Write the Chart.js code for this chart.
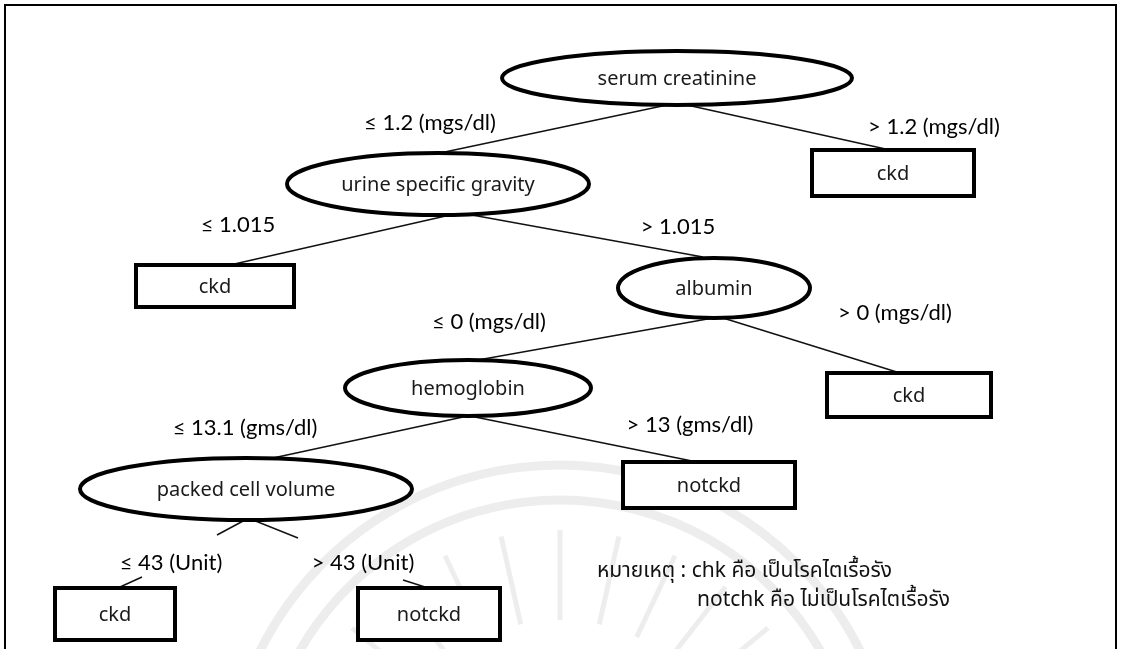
<!DOCTYPE html>
<html><head><meta charset="utf-8">
<script src="https://cdn.jsdelivr.net/npm/chart.js@4/dist/chart.umd.min.js"></script>
<style>html,body{margin:0;padding:0;background:#fff}#wrap{width:1123px;height:649px}</style>
</head><body><div id="wrap"><canvas id="c" width="1123" height="649"></canvas></div>
<script>
// ---- diagram data (diagram coordinate system: 0..1123 x 0..649) ----
const nodeLabels = ['serum creatinine','ckd','urine specific gravity','ckd','albumin','ckd','hemoglobin','notckd','packed cell volume','ckd','notckd'];
const nodeKinds  = ['split','leaf','split','leaf','split','leaf','split','leaf','split','leaf','leaf'];
const nodeX = [677, 893, 438, 215, 714, 909, 468, 709, 246, 115, 429];
const nodeY = [78, 173, 184, 286, 288, 395, 388, 485, 489, 614, 614];
// node half extents (layout)
const nodeHalfW = [175, 81, 151, 79, 96, 82, 123, 86, 166, 60, 71];
const nodeHalfH = [27, 23, 31, 21, 30, 22, 28, 23, 31, 26, 26];

// edges: tree branches with condition labels
const edgeLabels = ['≤ 1.2 (mgs/dl)','> 1.2 (mgs/dl)','≤ 1.015','> 1.015','≤ 0 (mgs/dl)','> 0 (mgs/dl)','≤ 13.1 (gms/dl)','> 13 (gms/dl)','≤ 43 (Unit)','> 43 (Unit)'];
const edgeFromX = [667, 687, 450, 472, 713, 723, 463, 475, 245, 253];
const edgeFromY = [105, 105, 215, 215, 318, 318, 417, 417, 520, 520];
const edgeToX   = [440, 890, 230, 703, 478, 900, 273, 697, 217, 298];
const edgeToY   = [153, 150, 265, 257, 360, 373, 458, 462, 535, 538];
const labelX = [430, 934, 238, 678, 489, 895, 245, 690, 171, 363];
const labelY = [123, 127, 225, 227, 322, 313, 428, 425, 563, 563];
// short connector stubs below the last labels
const stubFromX = [142, 403];
const stubFromY = [577, 580];
const stubToX = [120, 425];
const stubToY = [587, 587];

const noteLines = ['หมายเหตุ : chk คือ เป็นโรคไตเรื้อรัง', 'notchk คือ ไม่เป็นโรคไตเรื้อรัง'];
const noteX = [597, 697];
const noteY = [573, 602];

const frameX = [5, 5, 1116, 1116];
const frameY = [649, 5, 5, 649];

// faint watermark seal (centre and ring radii, diagram units)
const sealX = 560, sealY = 800;
const sealRings = [335, 300];

// ---- build datasets ----
const datasets = [];
datasets.push({label:'frame', data: frameX.map((x,i)=>({x, y: frameY[i]})), showLine:true, borderColor:'#000', borderWidth:2, pointRadius:0, fill:false});
for (let i=0;i<edgeLabels.length;i++){
  datasets.push({label:'edge'+i, data:[{x:edgeFromX[i],y:edgeFromY[i]},{x:edgeToX[i],y:edgeToY[i]}], showLine:true, borderColor:'#111', borderWidth:1.5, pointRadius:0});
}
for (let i=0;i<stubFromX.length;i++){
  datasets.push({label:'stub'+i, data:[{x:stubFromX[i],y:stubFromY[i]},{x:stubToX[i],y:stubToY[i]}], showLine:true, borderColor:'#111', borderWidth:1.5, pointRadius:0});
}
const NODE_DS = datasets.length;
datasets.push({label:'nodes', data: nodeX.map((x,i)=>({x, y:nodeY[i]})), pointRadius:0, showLine:false});
const LABEL_DS = datasets.length;
datasets.push({label:'edgeLabels', data: labelX.map((x,i)=>({x, y:labelY[i]})), pointRadius:0, showLine:false});
const NOTE_DS = datasets.length;
datasets.push({label:'note', data: noteX.map((x,i)=>({x, y:noteY[i]})), pointRadius:0, showLine:false});

const treePlugin = {
  id:'tree',
  beforeDatasetsDraw(chart){
    const ctx = chart.ctx, xs = chart.scales.x, ys = chart.scales.y;
    const cx = xs.getPixelForValue(sealX), cy = ys.getPixelForValue(sealY);
    ctx.save();
    ctx.strokeStyle = 'rgba(0,0,0,0.07)';
    ctx.lineWidth = 9;
    sealRings.forEach(r=>{
      const rp = Math.abs(xs.getPixelForValue(sealX + r) - cx);
      ctx.beginPath(); ctx.arc(cx, cy, rp, Math.PI*1.08, Math.PI*1.92); ctx.stroke();
    });
    ctx.lineWidth = 5;
    for (let k=0;k<9;k++){
      const a = Math.PI*(1.22 + k*0.07);
      const r1 = Math.abs(xs.getPixelForValue(sealX + 180) - cx);
      const r2 = Math.abs(xs.getPixelForValue(sealX + 270) - cx);
      ctx.beginPath();
      ctx.moveTo(cx + r1*Math.cos(a), cy + r1*Math.sin(a));
      ctx.lineTo(cx + r2*Math.cos(a), cy + r2*Math.sin(a));
      ctx.stroke();
    }
    ctx.restore();
  },
  afterDatasetsDraw(chart){
    const ctx = chart.ctx, xs = chart.scales.x, ys = chart.scales.y;
    ctx.save();
    // nodes
    chart.getDatasetMeta(NODE_DS).data.forEach((el,i)=>{
      const cx = el.x, cy = el.y;
      const w = Math.abs(xs.getPixelForValue(nodeX[i]+nodeHalfW[i]) - cx);
      const h = Math.abs(ys.getPixelForValue(nodeY[i]+nodeHalfH[i]) - cy);
      ctx.fillStyle = '#fff';
      ctx.strokeStyle = '#000';
      ctx.lineWidth = 4;
      ctx.beginPath();
      if (nodeKinds[i]==='split') ctx.ellipse(cx, cy, w, h, 0, 0, Math.PI*2);
      else ctx.rect(cx-w, cy-h, 2*w, 2*h);
      ctx.fill(); ctx.stroke();
      ctx.fillStyle = '#1a1a1a';
      ctx.font = '20px "Noto Sans", sans-serif';
      ctx.textAlign = 'center'; ctx.textBaseline = 'middle';
      ctx.fillText(nodeLabels[i], cx, cy+1);
    });
    // edge labels
    ctx.fillStyle = '#000';
    ctx.font = '22px Lato, "Noto Sans", sans-serif';
    ctx.textAlign = 'center'; ctx.textBaseline = 'middle';
    chart.getDatasetMeta(LABEL_DS).data.forEach((el,i)=>{
      ctx.fillText(edgeLabels[i], el.x, el.y);
    });
    // note
    ctx.fillStyle = '#111';
    ctx.font = '21px "Noto Sans Thai", "Noto Sans", "DejaVu Sans", sans-serif';
    ctx.textAlign = 'left';
    chart.getDatasetMeta(NOTE_DS).data.forEach((el,i)=>{
      ctx.fillText(noteLines[i], el.x, el.y);
    });
    ctx.restore();
  }
};

new Chart(document.getElementById('c'), {
  type:'scatter',
  data:{datasets},
  options:{
    responsive:false, animation:false, devicePixelRatio:1,
    layout:{padding:0},
    plugins:{legend:{display:false}, tooltip:{enabled:false}},
    scales:{
      x:{type:'linear', min:0, max:1123, display:false},
      y:{type:'linear', min:0, max:649, reverse:true, display:false}
    }
  },
  plugins:[treePlugin]
});
</script></body></html>
